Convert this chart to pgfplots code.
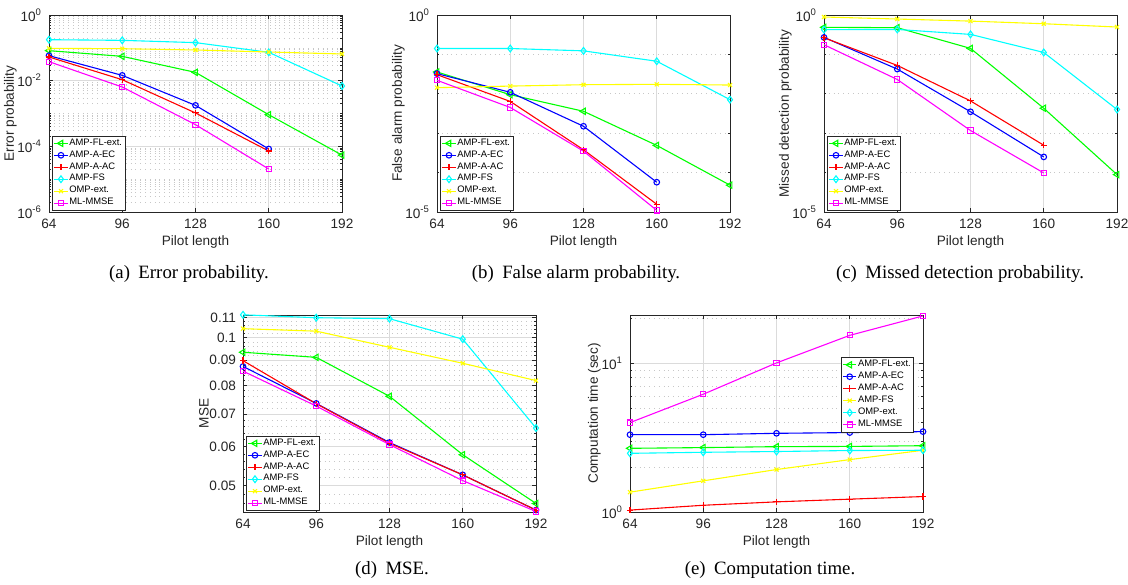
\documentclass[border=0pt]{standalone}
\usepackage{fontspec}
\setmainfont{Liberation Serif}
\setsansfont{Liberation Sans}
\usepackage{pgfplots}
\pgfplotsset{compat=1.18}

\definecolor{mgreen}{rgb}{0,1,0}
\definecolor{mblue}{rgb}{0,0,1}
\definecolor{mred}{rgb}{1,0,0}
\definecolor{mcyan}{rgb}{0,1,1}
\definecolor{myellow}{rgb}{1,1,0}
\definecolor{mmagenta}{rgb}{1,0,1}
\definecolor{maxis}{rgb}{0.15,0.15,0.15}

% matlab-like look shared by all five panels
\pgfplotsset{
  matax/.style={
    scale only axis, width=146.5pt, height=98.5pt,
    xmin=64, xmax=192,
    xtick={64,96,128,160,192}, xticklabels={64,96,128,160,192},
    clip=false,
    font=\sffamily\fontsize{6.8}{8}\selectfont,
    tick label style={text=maxis},
    label style={text=maxis},
    xlabel shift=-3.5pt, ylabel shift=-6.5pt,
    axis line style={maxis, line width=0.4pt},
    tick style={maxis, line width=0.3pt},
    major tick length=2pt, minor tick length=1.2pt,
    tick align=inside,
    xmajorgrids, ymajorgrids, yminorgrids,
    major grid style={black!14, line width=0.35pt},
    minor grid style={black!22, dotted, line width=0.3pt},
    xlabel={Pilot length},
    legend cell align=left,
    legend style={font=\sffamily\fontsize{4.7}{5.5}\selectfont,
      draw=maxis, line width=0.3pt, inner sep=0.8pt,
      nodes={inner sep=0.6pt}, row sep=0pt,
      at={(0.01,0.005)}, anchor=south west},
    legend image code/.code={\draw[mark repeat=2,mark phase=2,##1]
      plot coordinates {(0pt,0pt) (3.3pt,0pt) (6.6pt,0pt)};},
  },
}
\tikzset{
  sFL/.style={mgreen, mark=triangle, mark options={rotate=90}, line width=0.55pt, mark size=1.8pt},
  sEC/.style={mblue, mark=o, line width=0.55pt, mark size=1.4pt},
  sAC/.style={mred, mark=+, line width=0.55pt, mark size=1.6pt},
  sFS/.style={mcyan, mark=diamond, line width=0.55pt, mark size=1.7pt},
  sOMP/.style={myellow, mark=x, line width=0.55pt, mark size=1.4pt},
  sML/.style={mmagenta, mark=square, line width=0.55pt, mark size=1.3pt},
}

\begin{document}
\begin{tikzpicture}
\useasboundingbox (0,0) rectangle (564pt,292pt);

% (a) error probability
\begin{axis}[matax, ymode=log, at={(24.5pt,186pt)}, anchor=south west,
  ylabel={Error probability},
  ymin=1e-6, ymax=1,
  ytick={1e-6,1e-4,1e-2,1},
  yticklabels={10\textsuperscript{-6},10\textsuperscript{-4},10\textsuperscript{-2},10\textsuperscript{0}},
  minor ytick={2e-6,3e-6,4e-6,5e-6,6e-6,7e-6,8e-6,9e-6,1e-5,2e-5,3e-5,4e-5,5e-5,6e-5,7e-5,8e-5,9e-5,
    2e-4,3e-4,4e-4,5e-4,6e-4,7e-4,8e-4,9e-4,1e-3,2e-3,3e-3,4e-3,5e-3,6e-3,7e-3,8e-3,9e-3,
    2e-2,3e-2,4e-2,5e-2,6e-2,7e-2,8e-2,9e-2,1e-1,2e-1,3e-1,4e-1,5e-1,6e-1,7e-1,8e-1,9e-1}]
\addplot[sFL] coordinates {(64,0.082) (96,0.055) (128,0.0179) (160,9.2e-4) (192,5.4e-5)};
\addplot[sEC] coordinates {(64,0.0577) (96,0.0145) (128,1.77e-3) (160,8.3e-5)};
\addplot[sAC] coordinates {(64,0.0526) (96,0.0107) (128,1.04e-3) (160,7.2e-5)};
\addplot[sFS] coordinates {(64,0.177) (96,0.169) (128,0.144) (160,0.073) (192,6.9e-3)};
\addplot[sOMP] coordinates {(64,0.0966) (96,0.094) (128,0.086) (160,0.0747) (192,0.065)};
\addplot[sML] coordinates {(64,0.0379) (96,6.4e-3) (128,4.57e-4) (160,2.04e-5)};
\legend{AMP-FL-ext.,AMP-A-EC,AMP-A-AC,AMP-FS,OMP-ext.,ML-MMSE}
\end{axis}

% (b) false alarm probability
\begin{axis}[matax, ymode=log, at={(218.5pt,186pt)}, anchor=south west,
  ylabel={False alarm probability},
  ymin=1e-5, ymax=1,
  ytick={1e-5,1}, yticklabels={10\textsuperscript{-5},10\textsuperscript{0}},
  minor ytick={1e-4,1e-3,1e-2,1e-1}]
\addplot[sFL] coordinates {(64,0.0358) (96,9.5e-3) (128,3.6e-3) (160,4.9e-4) (192,4.8e-5)};
\addplot[sEC] coordinates {(64,0.0325) (96,0.0109) (128,1.5e-3) (160,5.7e-5)};
\addplot[sAC] coordinates {(64,0.0306) (96,6.4e-3) (128,3.8e-4) (160,1.57e-5)};
\addplot[sFS] coordinates {(64,0.141) (96,0.141) (128,0.123) (160,0.067) (192,7.1e-3)};
\addplot[sOMP] coordinates {(64,0.0143) (96,0.0157) (128,0.0170) (160,0.0174) (192,0.0167)};
\addplot[sML] coordinates {(64,0.022) (96,4.5e-3) (128,3.5e-4) (160,1.1e-5)};
\legend{AMP-FL-ext.,AMP-A-EC,AMP-A-AC,AMP-FS,OMP-ext.,ML-MMSE}
\end{axis}

% (c) missed detection probability
\begin{axis}[matax, ymode=log, at={(412pt,186pt)}, anchor=south west,
  ylabel={Missed detection probability},
  ymin=1e-5, ymax=1,
  ytick={1e-5,1}, yticklabels={10\textsuperscript{-5},10\textsuperscript{0}},
  minor ytick={1e-4,1e-3,1e-2,1e-1}]
\addplot[sFL] coordinates {(64,0.486) (96,0.477) (128,0.142) (160,4.3e-3) (192,8.9e-5)};
\addplot[sEC] coordinates {(64,0.27) (96,0.0424) (128,3.5e-3) (160,2.5e-4)};
\addplot[sAC] coordinates {(64,0.265) (96,0.0525) (128,6.6e-3) (160,4.95e-4)};
\addplot[sFS] coordinates {(64,0.424) (96,0.43) (128,0.322) (160,0.112) (192,4.0e-3)};
\addplot[sOMP] coordinates {(64,0.89) (96,0.79) (128,0.70) (160,0.60) (192,0.495)};
\addplot[sML] coordinates {(64,0.176) (96,0.0231) (128,1.17e-3) (160,9.8e-5)};
\legend{AMP-FL-ext.,AMP-A-EC,AMP-A-AC,AMP-FS,OMP-ext.,ML-MMSE}
\end{axis}

% (d) MSE
\begin{axis}[matax, ymode=log, at={(121.5pt,36pt)}, anchor=south west,
  ylabel={MSE},
  ymin=0.0442, ymax=0.1112,
  ytick={0.05,0.06,0.07,0.08,0.09,0.1,0.11},
  yticklabels={0.05,0.06,0.07,0.08,0.09,0.1,0.11},
  minor ytick={0.046,0.048,0.052,0.054,0.056,0.058,0.062,0.064,0.066,0.068,
    0.072,0.074,0.076,0.078,0.082,0.084,0.086,0.088,0.092,0.094,0.096,0.098,
    0.102,0.104,0.106,0.108}]
\addplot[sFL] coordinates {(64,0.0934) (96,0.0912) (128,0.0760) (160,0.0578) (192,0.0460)};
\addplot[sEC] coordinates {(64,0.0874) (96,0.0735) (128,0.0612) (160,0.0526) (192,0.0446)};
\addplot[sAC] coordinates {(64,0.0898) (96,0.0734) (128,0.0610) (160,0.0526) (192,0.0446)};
\addplot[sFS] coordinates {(64,0.1113) (96,0.1098) (128,0.1093) (160,0.0993) (192,0.0655)};
\addplot[sOMP] coordinates {(64,0.1043) (96,0.1031) (128,0.0956) (160,0.0887) (192,0.0818)};
\addplot[sML] coordinates {(64,0.0855) (96,0.0726) (128,0.0606) (160,0.0512) (192,0.0443)};
\legend{AMP-FL-ext.,AMP-A-EC,AMP-A-AC,AMP-FS,OMP-ext.,ML-MMSE}
\end{axis}

% (e) computation time
\begin{axis}[matax, ymode=log, at={(315pt,36pt)}, anchor=south west,
  ylabel={Computation time (sec)},
  ymin=1, ymax=21.1,
  ytick={1,10}, yticklabels={10\textsuperscript{0},10\textsuperscript{1}},
  minor ytick={2,3,4,5,6,7,8,9,20},
  legend style={at={(0.969,0.787)}, anchor=north east}]
\addplot[sFL] coordinates {(64,2.68) (96,2.71) (128,2.75) (160,2.76) (192,2.79)};
\addplot[sEC] coordinates {(64,3.31) (96,3.31) (128,3.38) (160,3.42) (192,3.47)};
\addplot[sAC] coordinates {(64,1.03) (96,1.11) (128,1.17) (160,1.22) (192,1.27)};
\addplot[sOMP] coordinates {(64,1.36) (96,1.62) (128,1.93) (160,2.25) (192,2.60)};
\addplot[sFS] coordinates {(64,2.48) (96,2.52) (128,2.55) (160,2.59) (192,2.60)};
\addplot[sML] coordinates {(64,3.99) (96,6.19) (128,10.05) (160,15.4) (192,20.8)};
\legend{AMP-FL-ext.,AMP-A-EC,AMP-A-AC,AMP-FS,OMP-ext.,ML-MMSE}
\end{axis}

% sub-captions
\begin{scope}[every node/.style={font=\fontsize{9.4}{11}\selectfont, anchor=base, inner sep=0pt}]
\node at (94.5pt,153pt) {(a)\hspace{0.45em}Error probability.};
\node at (288pt,153pt) {(b)\hspace{0.45em}False alarm probability.};
\node at (480pt,153pt) {(c)\hspace{0.45em}Missed detection probability.};
\node at (196pt,5pt) {(d)\hspace{0.45em}MSE.};
\node at (385pt,5pt) {(e)\hspace{0.45em}Computation time.};
\end{scope}
\end{tikzpicture}
\end{document}
